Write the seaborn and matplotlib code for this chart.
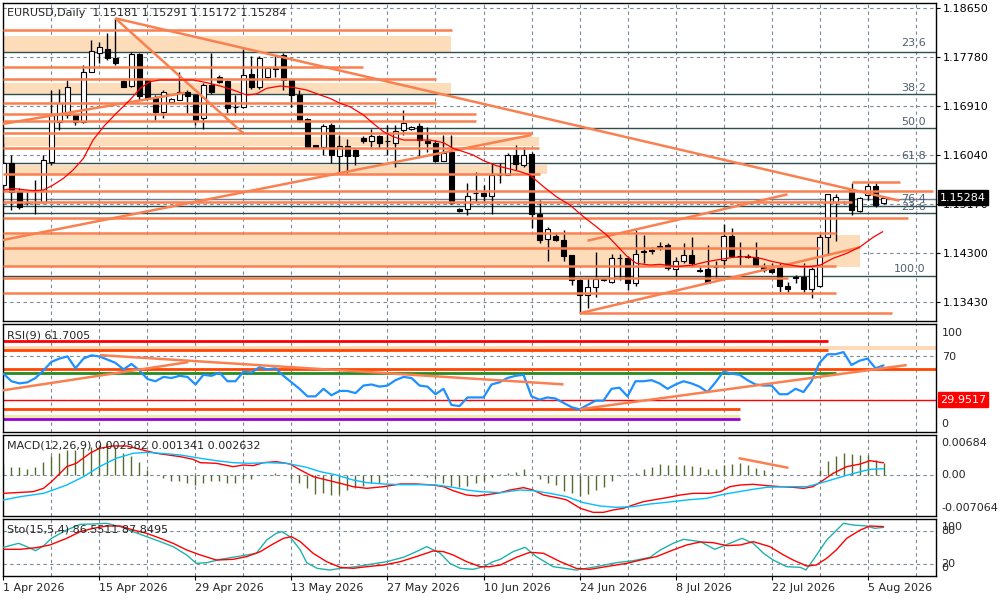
import numpy as np
import matplotlib
matplotlib.use("Agg")
import matplotlib.pyplot as plt
import matplotlib.transforms as mtransforms
import seaborn as sns

# ---- price data (daily bars, index 0 = 1 Apr 2026) ----
opens = [1.1551, 1.1589, 1.1539, 1.1518, 1.1521, 1.1521, 1.1592, 1.1663, 1.1675, 1.1675,
         1.1663, 1.1752, 1.1786, 1.1793, 1.1776, 1.1735, 1.1726, 1.1783, 1.1737, 1.1705,
         1.1681, 1.1699, 1.1702, 1.1716, 1.1710, 1.1669, 1.1728, 1.1742, 1.1735, 1.1689,
         1.1690, 1.1748, 1.1724, 1.1743, 1.1758, 1.1782, 1.1737, 1.1710, 1.1668, 1.1621,
         1.1619, 1.1657, 1.1602, 1.1620, 1.1613, 1.1634, 1.1628, 1.1638, 1.1628, 1.1626,
         1.1648, 1.1650, 1.1655, 1.1629, 1.1626, 1.1594, 1.1610, 1.1509, 1.1508, 1.1536,
         1.1536, 1.1532, 1.1568, 1.1568, 1.1604, 1.1586, 1.1606, 1.1499, 1.1455, 1.1460,
         1.1454, 1.1426, 1.1382, 1.1355, 1.1370, 1.1382, 1.1379, 1.1421, 1.1421, 1.1376,
         1.1432, 1.1434, 1.1441, 1.1444, 1.1401, 1.1415, 1.1427, 1.1399, 1.1401, 1.1406,
         1.1417, 1.1460, 1.1425, 1.1424, 1.1423, 1.1406, 1.1401, 1.1406, 1.1372, 1.1387,
         1.1387, 1.1366, 1.1371, 1.1458, 1.1521, 1.1520, 1.1542, 1.1505, 1.1533, 1.1549,
         1.15181]
highs = [1.1625, 1.1604, 1.1545, 1.1539, 1.1560, 1.1604, 1.1719, 1.1722, 1.1737, 1.1677,
         1.1764, 1.1808, 1.1805, 1.1820, 1.1847, 1.1737, 1.1787, 1.1785, 1.1737, 1.1711,
         1.1719, 1.1706, 1.1752, 1.1719, 1.1713, 1.1731, 1.1785, 1.1746, 1.1737, 1.1711,
         1.1793, 1.1779, 1.1779, 1.1760, 1.1782, 1.1785, 1.1737, 1.1719, 1.1669, 1.1622,
         1.1659, 1.1660, 1.1640, 1.1632, 1.1616, 1.1637, 1.1651, 1.1640, 1.1657, 1.1657,
         1.1684, 1.1656, 1.1660, 1.1654, 1.1631, 1.1640, 1.1640, 1.1510, 1.1554, 1.1574,
         1.1551, 1.1589, 1.1589, 1.1607, 1.1622, 1.1619, 1.1610, 1.1525, 1.1477, 1.1465,
         1.1471, 1.1426, 1.1385, 1.1385, 1.1432, 1.1385, 1.1429, 1.1429, 1.1424, 1.1471,
         1.1462, 1.1441, 1.1450, 1.1447, 1.1423, 1.1447, 1.1459, 1.1406, 1.1444, 1.1415,
         1.1481, 1.1474, 1.1450, 1.1429, 1.1450, 1.1412, 1.1412, 1.1412, 1.1379, 1.1391,
         1.1412, 1.1406, 1.1465, 1.1535, 1.1535, 1.1523, 1.1554, 1.1530, 1.1554, 1.1554,
         1.15291]
lows = [1.1542, 1.1506, 1.1509, 1.1515, 1.1500, 1.1518, 1.1586, 1.1648, 1.1669, 1.1657,
        1.1660, 1.1752, 1.1767, 1.1773, 1.1764, 1.1724, 1.1724, 1.1702, 1.1702, 1.1666,
        1.1669, 1.1698, 1.1702, 1.1678, 1.1657, 1.1651, 1.1713, 1.1732, 1.1678, 1.1675,
        1.1687, 1.1722, 1.1721, 1.1741, 1.1743, 1.1719, 1.1690, 1.1663, 1.1616, 1.1616,
        1.1604, 1.1589, 1.1572, 1.1572, 1.1586, 1.1625, 1.1619, 1.1616, 1.1604, 1.1583,
        1.1640, 1.1649, 1.1602, 1.1610, 1.1592, 1.1594, 1.1517, 1.1503, 1.1497, 1.1521,
        1.1521, 1.1500, 1.1554, 1.1568, 1.1577, 1.1583, 1.1474, 1.1448, 1.1415, 1.1452,
        1.1416, 1.1373, 1.1323, 1.1332, 1.1352, 1.1380, 1.1376, 1.1382, 1.1364, 1.1372,
        1.1412, 1.1429, 1.1435, 1.1400, 1.1389, 1.1412, 1.1406, 1.1397, 1.1376, 1.1385,
        1.1403, 1.1423, 1.1409, 1.1421, 1.1406, 1.1397, 1.1395, 1.1361, 1.1360, 1.1377,
        1.1361, 1.1351, 1.1370, 1.1429, 1.1452, 1.1518, 1.1497, 1.1502, 1.1524, 1.1511,
        1.15172]
closes = [1.1589, 1.1539, 1.1512, 1.1519, 1.1520, 1.1595, 1.1675, 1.1696, 1.1724, 1.1662,
          1.1752, 1.1788, 1.1795, 1.1776, 1.1767, 1.1725, 1.1783, 1.1708, 1.1705, 1.1681,
          1.1715, 1.1704, 1.1716, 1.1708, 1.1666, 1.1728, 1.1716, 1.1734, 1.1687, 1.1690,
          1.1746, 1.1724, 1.1776, 1.1758, 1.1757, 1.1737, 1.1710, 1.1666, 1.1619, 1.1617,
          1.1655, 1.1604, 1.1620, 1.1602, 1.1602, 1.1628, 1.1637, 1.1625, 1.1629, 1.1647,
          1.1661, 1.1654, 1.1631, 1.1625, 1.1594, 1.1608, 1.1519, 1.1504, 1.1532, 1.1537,
          1.1532, 1.1568, 1.1569, 1.1604, 1.1588, 1.1604, 1.1499, 1.1454, 1.1472, 1.1454,
          1.1424, 1.1382, 1.1355, 1.1369, 1.1383, 1.1383, 1.1421, 1.1422, 1.1376, 1.1429,
          1.1433, 1.1435, 1.1442, 1.1403, 1.1415, 1.1427, 1.1412, 1.1398, 1.1377, 1.1405,
          1.1460, 1.1425, 1.1424, 1.1423, 1.1407, 1.1400, 1.1397, 1.1371, 1.1367, 1.1386,
          1.1366, 1.1401, 1.1458, 1.1535, 1.1529, 1.1521, 1.1506, 1.1527, 1.1549, 1.1515,
          1.15284]

# moving average (red), read at points
ma_x = [0, 1.2, 2.1, 3.7, 5, 6.2, 7.5, 8.7, 10, 11.2, 12.5, 14.1, 15.8, 17.1, 18.3,
        19.6, 22.1, 23.7, 25.4, 27.1, 28.7, 30.4, 31.6, 32.9, 34.6, 36.2, 37.9, 39.6, 40.8,
        42.1, 43.3, 45, 46.2, 47.5, 48.7, 50, 51.6, 53.3, 55, 56.2, 57.5, 58.7, 60, 61.6,
        63.3, 64.6, 65.8, 67.5, 69.1, 70.8, 72.5, 74.1, 75.4, 76.6, 77.9, 79.1, 80.8, 82.1,
        84.1, 86.2, 87.9, 89.6, 91.2, 92.9, 94.6, 96.2, 97.9, 99.6, 100.8, 102.1, 103.7,
        105.4, 107.1, 108.7, 109.9]
ma_val = [1.15419, 1.15448, 1.15431, 1.15407, 1.15419, 1.15507, 1.15626, 1.15774, 1.15981,
          1.16306, 1.16543, 1.16780, 1.17017, 1.17224, 1.17342, 1.17372, 1.17372, 1.17372,
          1.17324, 1.17265, 1.17194, 1.17105, 1.17123, 1.17224, 1.17265, 1.17241, 1.17194,
          1.17105, 1.17046, 1.16957, 1.16898, 1.16750, 1.16602, 1.16454, 1.16366, 1.16306,
          1.16306, 1.16306, 1.16259, 1.16158, 1.16099, 1.16040, 1.15940, 1.15851, 1.15792,
          1.15744, 1.15685, 1.15478, 1.15300, 1.15152, 1.14945, 1.14768, 1.14620, 1.14442,
          1.14247, 1.14117, 1.14087, 1.14099, 1.14058, 1.14087, 1.14146, 1.14188, 1.14223,
          1.14235, 1.14206, 1.14146, 1.14099, 1.14058, 1.14058, 1.14087, 1.14206, 1.14294,
          1.14413, 1.14579, 1.14679]

# drawn objects on the price chart
hline_price = [1.18259, 1.17608, 1.17389, 1.16969, 1.16762, 1.16650, 1.16425, 1.16159,
               1.15703, 1.15406, 1.15200, 1.14916, 1.14661, 1.14395, 1.14075, 1.13851,
               1.13596, 1.13229, 1.15566]
hline_start = [-0.06] * 17 + [72, 106]
hline_end = [56.1, 44.9, 54.1, 54.1, 59.1, 59.1, 66.0, 66.9, 67.1, 116.2, 106.0, 113.0,
             104.0, 102.0, 104.0, 98.0, 104.0, 111.0, 112.0]
band_low = [1.17857, 1.17123, 1.16200, 1.15703, 1.14058]
band_high = [1.18153, 1.17324, 1.16366, 1.15863, 1.14620]
band_end = [55.9, 55.9, 66.9, 67.9, 107.0]
trend_x0 = [13.98, 13.98, -0.06, -0.1, 72.0, 73.0]
trend_y0 = [1.18467, 1.18467, 1.14531, 1.16591, 1.13230, 1.14519]
trend_x1 = [112.0, 29.98, 66.0, 22.7, 107.1, 98.0]
trend_y1 = [1.15229, 1.16425, 1.16395, 1.17146, 1.14401, 1.15342]
fib_price = [1.17874, 1.17118, 1.16514, 1.15893, 1.15135, 1.15016, 1.13892]
fib_label = ["23.6", "38.2", "50.0", "61.8", "76.4", "23.6", "100.0"]
fib_label_y = [1.18029, 1.17235, 1.16631, 1.16028, 1.15259, 1.15112, 1.14011]
gray_line = 1.15254
price_ticks = [1.18650, 1.17780, 1.16910, 1.16040, 1.15170, 1.14300, 1.13430]
last_price = 1.15284

# RSI(9)
rsi = [54, 47, 45, 46, 50, 57, 65, 68, 70, 59, 68, 71, 70, 67, 64, 58, 63, 57, 49, 47,
       51, 50, 52, 51, 44, 53, 52, 55, 47, 47, 56, 55, 60, 58, 59, 52, 46, 40, 33, 33,
       40, 34, 38, 38, 36, 43, 44, 42, 43, 48, 51, 50, 43, 42, 35, 40, 25, 24, 32, 32,
       32, 44, 46, 50, 52, 53, 33, 30, 32, 31, 27, 23, 21, 25, 29, 29, 40, 41, 33, 47,
       47, 48, 45, 40, 44, 47, 45, 42, 37, 46, 56, 54, 53, 48, 44, 43, 43, 35, 35, 40,
       37, 47, 64, 72, 72, 74, 62, 66, 68, 59, 61.7]
rsi_hl_val = [83.9, 75.5, 58.3, 54.6, 29.95, 21.3, 12.1]
rsi_hl_end = [103, 103, 116.6, 104, 116.6, 92, 92]
rsi_hl_color = ["#FF0000", "#FF4500", "#FF4500", "#228B22", "#FF0000", "#FF4500", "#9400D3"]
rsi_hl_width = [2, 2, 2, 2, 1, 2, 2]
rsi_band_low = [76.2, 13.0]
rsi_band_high = [79.2, 16.1]
rsi_band_end = [116.6, 92]
rsi_band_color = ["#FFD9B8", "#EEE8AA"]
rsi_tr_x0 = [-0.06, 12.06, 72.06]
rsi_tr_y0 = [38.6, 71.2, 21.1]
rsi_tr_x1 = [23.1, 70.0, 112.9]
rsi_tr_y1 = [64.7, 44.1, 62.0]

# MACD(12,26,9), values in 1e-3
macd_hist = [2.4, 1.8, 1.8, 1.4, 1.8, 2.7, 4.0, 4.7, 5.4, 5.4, 5.8, 6.1, 6.5, 6.8, 6.1, 4.7, 4.0, 2.7, 1.1, 0.0,
             -0.7, -1.3, -1.4, -1.8, -2.2, -1.8, -1.4, -1.4, -1.8, -1.8, -0.9, -0.9, 0.0, 0.0, 0.5, 0.0, -0.9, -1.8, -2.9, -4.0,
             -3.8, -4.3, -4.0, -3.2, -2.9, -2.4, -1.8, -1.7, -0.4, 0.2, 0.0, 0.2, 0.0, -0.4, -0.9, -1.8, -2.4, -2.5, -2.4, -1.8,
             -1.3, -0.5, 0.2, 0.5, 0.7, 1.4, 0.0, -0.9, -1.7, -2.2, -3.4, -3.8, -4.5, -4.0, -3.2, -2.5, -1.4, -0.2, 0.0, 0.5,
             1.2, 1.8, 2.4, 2.2, 2.2, 2.2, 1.9, 1.8, 1.2, 1.2, 2.2, 2.4, 2.5, 2.2, 1.6, 1.1, 0.4, 0.0, 0.0, 0.0,
             0.0, 0.0, 1.1, 3.1, 4.1, 4.7, 4.5, 4.3, 4.3, 3.2, 2.58]
macd_red_x = [0, 3.7, 5, 6, 7.9, 9.1, 10.8, 12, 13.7, 15.4, 17.9, 19.1, 22.1, 23.7, 24.6,
              26.6, 28.7, 30, 31.2, 32.5, 34.1, 35.8, 37.1, 38.7, 40.4, 42.1, 43.7, 45.4,
              47.5, 49.6, 51.6, 53.7, 55, 56.2, 57.9, 59.2, 60.8, 62.1, 63.3, 65, 66.2,
              67.5, 69.6, 70.4, 72.1, 73.7, 75, 76.2, 77.5, 78.7, 80, 81.2, 82.9, 84.6,
              86.2, 88.3, 89.6, 90.8, 92.1, 93.7, 95.4, 97.1, 98.7, 100, 101.2, 102.5,
              103.7, 105.4, 107.1, 108.3, 110]
macd_red = [-3.96, -3.60, -2.88, -1.44, 1.80, 2.52, 4.68, 5.75, 6.26, 6.26, 5.18, 4.68,
            3.96, 3.38, 2.66, 2.52, 1.80, 2.16, 2.01, 2.66, 2.88, 2.37, 1.08, -0.36, -1.08,
            -1.80, -2.52, -2.88, -2.52, -1.94, -1.94, -2.16, -2.52, -3.38, -4.32, -4.53,
            -4.17, -3.81, -3.24, -2.73, -3.24, -4.32, -5.04, -5.39, -7.19, -8.06, -8.06,
            -7.55, -7.19, -6.47, -5.75, -5.39, -4.89, -4.32, -3.96, -3.96, -3.60, -2.52,
            -2.16, -2.01, -2.30, -2.52, -2.66, -2.88, -2.52, -1.08, 0.36, 1.80, 2.37, 3.09,
            2.63]
macd_blue_x = [0, 2.1, 5, 6.2, 7.9, 10, 12, 14.1, 16.2, 17.9, 19.6, 22.1, 24.6, 26.6, 28.7,
               30.8, 32.9, 35.4, 37.9, 39.6, 41.6, 43.7, 45.4, 47.5, 49.6, 52.1, 54.1, 56.2,
               57.9, 59.6, 62.1, 64.6, 66.2, 68.3, 70.4, 72.5, 74.6, 76.6, 78.7, 80.8, 82.9,
               85.4, 87.9, 89.6, 91.2, 93.7, 95.4, 97.9, 100.4, 102, 103.7, 105.4, 107.1,
               108.3, 110]
macd_blue = [-5.39, -4.68, -3.96, -3.24, -2.16, -0.36, 1.80, 3.60, 4.68, 4.89, 4.68, 4.32,
             3.60, 3.09, 2.66, 2.52, 2.66, 2.52, 1.65, 0.72, 0.0, -1.08, -1.65, -1.94, -2.09,
             -2.09, -2.16, -2.66, -3.24, -3.60, -3.81, -3.24, -3.38, -3.96, -4.68, -5.97,
             -6.69, -6.98, -6.83, -6.26, -5.90, -5.39, -5.04, -4.32, -3.81, -3.09, -2.66,
             -2.52, -2.52, -1.80, -0.94, -0.07, 0.72, 1.22, 1.34]
macd_tr_x = [92, 98]
macd_tr_y = [3.6, 1.58]

# Stochastic(15,5,4)
sto_main_x = [0, 1.9, 2.9, 4, 5, 6, 7.9, 9.6, 11.2, 12.9, 14.6, 16.2, 17.9, 19.6, 21.2,
              22.9, 24.1, 25.4, 27.1, 28.7, 30.4, 31.6, 32.9, 34.1, 34.8, 35.8, 37.1, 37.9,
              39.2, 40.8, 42.1, 44.1, 45.8, 47.9, 50, 51.6, 52.9, 54.6, 55.8, 57.1, 58.7,
              60, 61.2, 62.1, 63.7, 65.2, 66.6, 68.7, 71.6, 74.1, 76.6, 78.7, 80.8, 82.1,
              83.7, 85, 87.1, 88.9, 90.8, 92.3, 93.7, 95, 96.2, 97.9, 99.6, 100.3, 101.2,
              102.9, 105, 106.2, 107.9, 108.9, 110]
sto_main = [50.6, 57.8, 51.8, 44.6, 53.0, 66.8, 81.8, 92.0, 92.6, 93.8, 87.8, 78.8, 69.8,
            60.8, 51.8, 36.8, 21.7, 22.9, 28.9, 32.6, 36.8, 39.8, 63.8, 75.8, 78.8, 69.8,
            45.8, 22.9, 12.7, 9.7, 12.7, 15.7, 19.9, 24.7, 32.6, 42.8, 51.8, 39.8, 21.7,
            12.7, 10.9, 15.7, 24.7, 28.9, 42.8, 50.6, 33.8, 15.7, 9.7, 15.7, 22.9, 26.5,
            32.6, 45.8, 57.8, 65.0, 60.8, 47.0, 57.8, 66.8, 57.8, 39.8, 27.7, 15.7, 14.5,
            9.7, 27.7, 63.8, 93.8, 90.8, 89.0, 84.8, 86.55]
sto_sig_x = [0, 2.1, 4.1, 5.8, 7.9, 9.6, 11.2, 12.9, 14.6, 16.2, 17.9, 19.6, 21.2, 22.9,
             24.6, 26.6, 28.7, 30.4, 32.1, 33.7, 35, 36, 37.1, 38.7, 40.4, 42.1, 43.7, 45.4,
             47.5, 49.6, 51.6, 53.7, 55, 56.2, 57.9, 59.6, 60.8, 62.1, 64.1, 65.8, 67.5,
             69.6, 71.6, 73.3, 75.8, 77.9, 80, 81.6, 83.7, 85.4, 87.1, 88.7, 90.4, 92.1,
             93.7, 95.8, 97.5, 98.7, 100.4, 101.6, 102.9, 104.1, 105.4, 107.1, 108.3, 110]
sto_sig = [47.0, 47.0, 50.0, 54.8, 66.8, 78.8, 84.8, 89.0, 89.0, 81.8, 75.8, 66.8, 57.8,
           45.8, 36.8, 27.7, 28.9, 33.8, 42.8, 56.6, 66.8, 69.8, 60.8, 39.8, 24.7, 14.5,
           12.7, 15.7, 18.7, 24.7, 33.8, 44.0, 42.8, 36.8, 24.7, 15.7, 15.7, 18.7, 32.6,
           41.6, 39.8, 24.7, 12.7, 10.9, 16.9, 21.7, 28.9, 33.8, 45.8, 54.8, 60.2, 59.0,
           53.6, 54.8, 60.8, 51.8, 36.8, 27.7, 16.9, 18.7, 30.8, 45.8, 66.8, 81.8, 89.0,
           87.85]

date_bars = [0, 12, 24, 36, 48, 60, 72, 84, 96, 108]
date_labels = ["1 Apr 2026", "15 Apr 2026", "29 Apr 2026", "13 May 2026", "27 May 2026",
               "10 Jun 2026", "24 Jun 2026", "8 Jul 2026", "22 Jul 2026", "5 Aug 2026"]

# ---- style ----
sns.set_style("white")
plt.rcParams["font.family"] = ["DejaVu Sans"]
plt.rcParams["font.size"] = 8

GRID = "#7A8898"
DASH = (0, (3, 3))
ORANGE = "#FA8050"
PEACH = "#FDDCBA"
LW_OBJ = 1.8
X_LEFT, X_RIGHT = -0.06, 116.56

fig = plt.figure(figsize=(10, 6), dpi=100)
ax_p = fig.add_axes([0.003, 0.465, 0.933, 0.530])
ax_r = fig.add_axes([0.003, 0.280, 0.933, 0.180])
ax_m = fig.add_axes([0.003, 0.140, 0.933, 0.135])
ax_s = fig.add_axes([0.003, 0.040, 0.933, 0.095])

for ax in (ax_p, ax_r, ax_m, ax_s):
    for s in ax.spines.values():
        s.set_color("black")
        s.set_linewidth(1)
    for b in range(6, 117, 6):
        ax.axvline(b, color=GRID, lw=0.8, ls=DASH, zorder=0.5)

# ---- price panel ----
bars = np.arange(len(opens))
o = np.array(opens)
c = np.array(closes)
up = c >= o
body_lo = np.minimum(o, c)
body_h = np.maximum(np.abs(c - o), 0.00004)

for t in price_ticks:
    ax_p.axhline(t, color=GRID, lw=0.8, ls=DASH, zorder=0.5)
for lo, hi, x1 in zip(band_low, band_high, band_end):
    ax_p.fill_between([X_LEFT, x1], lo, hi, color=PEACH, lw=0, zorder=1)
for p in fib_price:
    ax_p.axhline(p, color="#2F4F4F", lw=1, zorder=2)
ax_p.axhline(gray_line, color="#708090", lw=1, zorder=2)
for lab, y in zip(fib_label, fib_label_y):
    ax_p.text(115.3, y, lab, ha="right", va="center", color="#4F6070", fontsize=8, zorder=2)

ax_p.vlines(bars, lows, highs, color="black", lw=1, zorder=3)
ax_p.bar(bars[up], body_h[up], bottom=body_lo[up], width=0.6, color="white",
         edgecolor="black", linewidth=0.8, zorder=3.5)
ax_p.bar(bars[~up], body_h[~up], bottom=body_lo[~up], width=0.6, color="black",
         edgecolor="black", linewidth=0.8, zorder=3.5)

ax_p.hlines(hline_price, hline_start, hline_end, color=ORANGE, lw=LW_OBJ, zorder=4)
for x0, y0, x1, y1 in zip(trend_x0, trend_y0, trend_x1, trend_y1):
    ax_p.plot([x0, x1], [y0, y1], color=ORANGE, lw=LW_OBJ, zorder=4, solid_capstyle="butt")

sns.lineplot(x=ma_x, y=ma_val, ax=ax_p, color="red", lw=0.9, zorder=5, legend=False)

ax_p.set_xlim(X_LEFT, X_RIGHT)
ax_p.set_ylim(1.13093, 1.18739)
ax_p.set_xticks([])
ax_p.set_xlabel("")
ax_p.set_ylabel("")
ax_p.yaxis.tick_right()
ax_p.set_yticks(price_ticks)
ax_p.set_yticklabels([f"{t:.5f}" for t in price_ticks])
ax_p.tick_params(axis="y", right=True, left=False, length=3, pad=2, labelsize=8,
                 color="black", labelcolor="black")
ax_p.text(0.0045, 0.969, "EURUSD,Daily  1.15181 1.15291 1.15172 1.15284",
          transform=ax_p.transAxes, ha="left", va="center", fontsize=8, zorder=6)
tr_p = mtransforms.blended_transform_factory(ax_p.transAxes, ax_p.transData)
ax_p.text(1.004, last_price, f"{last_price:.5f}", transform=tr_p, ha="left", va="center",
          color="white", fontsize=8, clip_on=False, zorder=10,
          bbox=dict(boxstyle="square,pad=0.2", fc="black", ec="black"))

# ---- RSI panel ----
for v in (70, 30):
    ax_r.axhline(v, color=GRID, lw=0.8, ls=DASH, zorder=0.5)
for lo, hi, x1, col in zip(rsi_band_low, rsi_band_high, rsi_band_end, rsi_band_color):
    ax_r.fill_between([X_LEFT, x1], lo, hi, color=col, lw=0, zorder=1)
for v, x1, col, w in zip(rsi_hl_val, rsi_hl_end, rsi_hl_color, rsi_hl_width):
    ax_r.hlines(v, X_LEFT, x1, color=col, lw=w, zorder=2)
for x0, y0, x1, y1 in zip(rsi_tr_x0, rsi_tr_y0, rsi_tr_x1, rsi_tr_y1):
    ax_r.plot([x0, x1], [y0, y1], color=ORANGE, lw=LW_OBJ, zorder=4, solid_capstyle="butt")
sns.lineplot(x=bars, y=rsi, ax=ax_r, color="#1E90FF", lw=1.6, zorder=3, legend=False)
ax_r.set_xlim(X_LEFT, X_RIGHT)
ax_r.set_ylim(0, 100)
ax_r.set_xticks([])
ax_r.set_yticks([])
ax_r.set_xlabel("")
ax_r.set_ylabel("")
ax_r.text(0.0045, 0.889, "RSI(9) 61.7005", transform=ax_r.transAxes, ha="left",
          va="center", fontsize=8, zorder=6)
tr_r = mtransforms.blended_transform_factory(ax_r.transAxes, ax_r.transData)
for lab, y in (("100", 91.4), ("70", 69.5), ("0", 7.1)):
    ax_r.text(1.006, y, lab, transform=tr_r, ha="left", va="center", fontsize=8, clip_on=False)
ax_r.text(1.004, 29.95, "29.9517", transform=tr_r, ha="left", va="center", color="white",
          fontsize=8, clip_on=False, zorder=10,
          bbox=dict(boxstyle="square,pad=0.2", fc="red", ec="red"))

# ---- MACD panel ----
ax_m.axhline(0, color=GRID, lw=0.8, ls=DASH, zorder=0.5)
ax_m.vlines(bars, 0, np.array(macd_hist) / 1000, color="#556B2F", lw=1, zorder=2)
sns.lineplot(x=macd_red_x, y=np.array(macd_red) / 1000, ax=ax_m, color="red", lw=1,
             zorder=3, legend=False)
sns.lineplot(x=macd_blue_x, y=np.array(macd_blue) / 1000, ax=ax_m, color="#00BFFF", lw=1,
             zorder=3, legend=False)
ax_m.plot(macd_tr_x, np.array(macd_tr_y) / 1000, color=ORANGE, lw=LW_OBJ, zorder=4)
ax_m.set_xlim(X_LEFT, X_RIGHT)
ax_m.set_ylim(-0.00885, 0.00863)
ax_m.set_xticks([])
ax_m.set_yticks([])
ax_m.set_xlabel("")
ax_m.set_ylabel("")
ax_m.text(0.0045, 0.868, "MACD(12,26,9) 0.002582 0.001341 0.002632", transform=ax_m.transAxes,
          ha="left", va="center", fontsize=8, zorder=6)
tr_m = mtransforms.blended_transform_factory(ax_m.transAxes, ax_m.transData)
for lab, y in (("0.00684", 0.00684), ("0.00", 0.0), ("-0.007064", -0.007064)):
    ax_m.text(1.006, y, lab, transform=tr_m, ha="left", va="center", fontsize=8, clip_on=False)

# ---- Stochastic panel ----
for v in (80, 20):
    ax_s.axhline(v, color=GRID, lw=0.8, ls=DASH, zorder=0.5)
sns.lineplot(x=sto_main_x, y=sto_main, ax=ax_s, color="#20B2AA", lw=1, zorder=3, legend=False)
sns.lineplot(x=sto_sig_x, y=sto_sig, ax=ax_s, color="red", lw=1, zorder=3, legend=False)
ax_s.set_xlim(X_LEFT, X_RIGHT)
ax_s.set_ylim(-1.1, 101.6)
ax_s.set_yticks([])
ax_s.set_xlabel("")
ax_s.set_ylabel("")
ax_s.text(0.0045, 0.81, "Sto(15,5,4) 86.5511 87.8495", transform=ax_s.transAxes,
          ha="left", va="center", fontsize=8, zorder=6)
tr_s = mtransforms.blended_transform_factory(ax_s.transAxes, ax_s.transData)
for lab, y in (("100", 87.2), ("80", 80), ("20", 20.5), ("0", 13.3)):
    ax_s.text(1.006, y, lab, transform=tr_s, ha="left", va="center", fontsize=8, clip_on=False)
ax_s.set_xticks(date_bars)
ax_s.set_xticklabels(date_labels, ha="left")
ax_s.tick_params(axis="x", bottom=True, length=3, pad=2, labelsize=8, color="black")

fig.savefig("out.png", dpi=100)
